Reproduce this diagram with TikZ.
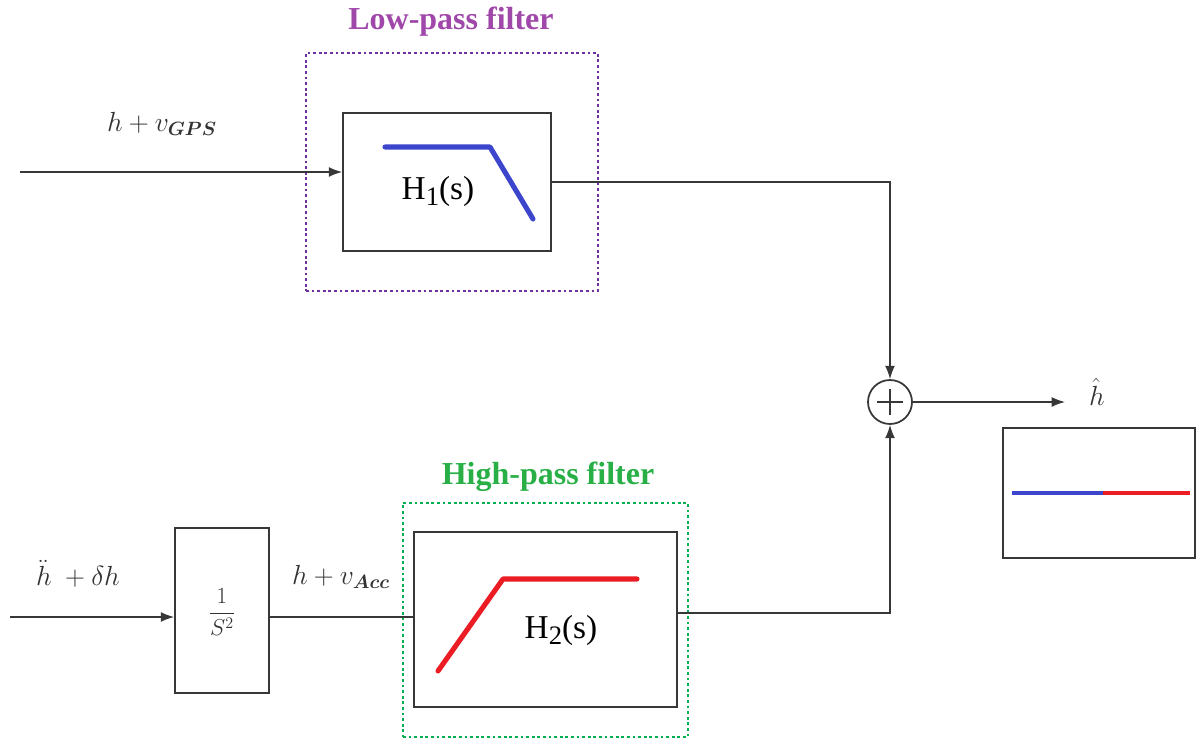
\documentclass[tikz,border=0pt]{standalone}
\usepackage{amsmath}
\usepackage{fontspec}
\setmainfont{Liberation Serif}
\usetikzlibrary{arrows.meta}
\definecolor{lpcol}{RGB}{112,48,160}
\definecolor{lptitle}{RGB}{160,72,170}
\definecolor{hpcol}{RGB}{0,176,80}
\definecolor{hptitle}{RGB}{40,175,70}
\definecolor{bluec}{RGB}{60,70,205}
\definecolor{redc}{RGB}{235,28,36}
\definecolor{boxgray}{RGB}{55,55,55}
\definecolor{txtgray}{RGB}{50,50,50}
\newcommand{\hsub}[1]{H\raisebox{-0.45ex}{\fontsize{20}{20}\selectfont #1}(s)}
\begin{document}
\begin{tikzpicture}[x=0.75pt,y=-0.75pt,
  blk/.style={draw=boxgray, line width=1.3pt, inner sep=0pt, fill=white},
  frame/.style={line width=2.1pt, dash pattern=on 2.1pt off 2.1pt, inner sep=0pt},
  conn/.style={draw=boxgray, line width=1.1pt},
  arr/.style={conn, -{Latex[length=10pt,width=7.5pt]}},
  mlab/.style={text=txtgray, font=\fontsize{22}{26}\selectfont, inner sep=0pt},
  title/.style={font=\fontsize{24}{28}\selectfont\bfseries, inner sep=0pt},
  hlab/.style={font=\fontsize{25}{30}\selectfont, text=black, inner sep=0pt},
  curve/.style={line width=3.8pt, line cap=round, line join=round}]
\useasboundingbox (0,0) rectangle (1200,739);
% frames
\node[frame, draw=lpcol, minimum width=219pt, minimum height=178.5pt] (lp) at (452,172) {};
\node[title, text=lptitle] (lpt) at (451,22) {Low-pass filter};
\node[frame, draw=hpcol, minimum width=213.75pt, minimum height=175.5pt] (hp) at (545.5,620) {};
\node[title, text=hptitle] (hpt) at (548,477) {High-pass filter};
% blocks
\node[blk, minimum width=156pt, minimum height=103.5pt] (h1) at (447,182) {};
\node[blk, minimum width=70.5pt, minimum height=123.75pt] (s2) at (222,610.5) {};
\node[blk, minimum width=197.25pt, minimum height=131.25pt] (h2) at (545.5,619.5) {};
\node[blk, minimum width=144pt, minimum height=97.5pt] (leg) at (1099,493) {};
\node[draw=boxgray, line width=1.3pt, circle, minimum size=33pt, inner sep=0pt] (sum) at (890,402) {};
\draw[boxgray, line width=1.3pt] (sum.center) ++(-13,0) -- ++(26,0);
\draw[boxgray, line width=1.3pt] (sum.center) ++(0,-13) -- ++(0,26);
% block contents
\draw[curve, bluec] (385,147) -- (490,147) -- (533,219);
\node[hlab] (h1t) at (438,191) {\hsub{1}};
\draw[curve, redc] (438,671) -- (503,579) -- (637,579);
\node[hlab] (h2t) at (561,630) {\hsub{2}};
\node[text=txtgray, font=\fontsize{17}{20}\selectfont, inner sep=0pt] (s2t) at (222,612) {$\dfrac{1}{S^{2}}$};
\draw[line width=3.5pt, bluec] (1012,493) -- (1103,493);
\draw[line width=3.5pt, redc] (1103,493) -- (1190,493);
% labels
\node[mlab] (l1) at (162,124) {$h+v_{\boldsymbol{GPS}}$};
\node[mlab] (l2) at (78,574) {$\ddot{h}\ +\delta h$};
\node[mlab] (l3) at (341,577) {$h+v_{\boldsymbol{Acc}}$};
\node[mlab] (l4) at (1097,392) {$\hat{h}$};
% connectors
\coordinate (in1) at (20,172);
\coordinate (in2) at (10,617);
\coordinate (out) at (1065,402);
\coordinate (j2) at (890,613);
\draw[arr] (in1) -- (h1.west |- in1);
\draw[arr] (h1.east) -| (sum.north);
\draw[arr] (in2) -- (s2.west |- in2);
\draw[conn] (s2.east |- in2) -- (h2.west |- in2);
\draw[arr] (h2.east |- j2) -- (j2) -- (sum.south);
\draw[arr] (sum.east) -- (out);
\end{tikzpicture}
\end{document}
